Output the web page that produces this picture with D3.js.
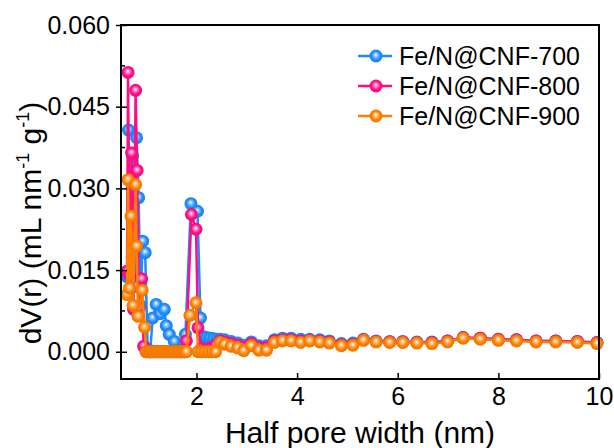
<!doctype html>
<html lang="en">
  <head>
    <meta charset="utf-8">
    <title>Pore size distribution</title>
    <style>
      * { box-sizing: border-box; }
      body { margin: 0; background: #fff; }
      svg text { font-family: Arial, "Liberation Sans", sans-serif; fill: #000; }
    </style>
  </head>
  <body>
    <div id="chart"></div>
    <script src="https://cdn.jsdelivr.net/npm/d3@7"></script>
    <script>
      // half pore width (nm) and dV(r) (mL nm-1 g-1)
      const width700 = [0.62, 0.65, 0.69, 0.73, 0.77, 0.81, 0.85, 0.89, 0.93, 0.98, 1.03, 1.08, 1.13, 1.20, 1.28, 1.36, 1.40, 1.46, 1.56, 1.62, 1.68, 1.74, 1.78, 1.89, 2.02, 2.08, 2.13, 2.20, 2.27, 2.34, 2.41, 2.47, 2.56, 2.69, 2.82, 2.94, 3.09, 3.24, 3.39, 3.55, 3.71, 3.88, 4.07, 4.25, 4.45, 4.64, 4.88, 5.11, 5.32, 5.57, 5.84, 6.10, 6.38, 6.68, 6.99, 7.30, 7.64, 8.00, 8.36, 8.75, 9.14, 9.57, 9.96]
      const dv700 = [0.0138, 0.0407, 0.0150, 0.0360, 0.0120, 0.0393, 0.0283, 0.0085, 0.0203, 0.0182, 0.0005, 0.0000, 0.0062, 0.0087, 0.0070, 0.0078, 0.0048, 0.0032, 0.0019, 0.0002, 0.0000, 0.0004, 0.0032, 0.0272, 0.0258, 0.0062, 0.0028, 0.0026, 0.0025, 0.0024, 0.0023, 0.0023, 0.0022, 0.0019, 0.0016, 0.0012, 0.0018, 0.0011, 0.0011, 0.0022, 0.0025, 0.0025, 0.0023, 0.0023, 0.0022, 0.0020, 0.0015, 0.0016, 0.0023, 0.0020, 0.0019, 0.0019, 0.0018, 0.0018, 0.0020, 0.0026, 0.0025, 0.0023, 0.0022, 0.0020, 0.0020, 0.0019, 0.0017]

      const width800 = [0.62, 0.64, 0.67, 0.71, 0.75, 0.79, 0.82, 0.86, 0.91, 0.95, 1.00, 1.04, 1.08, 1.12, 1.16, 1.20, 1.24, 1.28, 1.32, 1.36, 1.40, 1.44, 1.48, 1.52, 1.56, 1.60, 1.64, 1.68, 1.72, 1.76, 1.80, 1.90, 1.99, 2.03, 2.10, 2.17, 2.24, 2.31, 2.38, 2.47, 2.56, 2.69, 2.82, 2.94, 3.09, 3.24, 3.39, 3.55, 3.71, 3.88, 4.07, 4.25, 4.45, 4.64, 4.88, 5.11, 5.32, 5.57, 5.84, 6.10, 6.38, 6.68, 6.99, 7.30, 7.64, 8.00, 8.36, 8.75, 9.14, 9.57, 9.96]
      const dv800 = [0.0148, 0.0513, 0.0140, 0.0365, 0.0078, 0.0480, 0.0333, 0.0081, 0.0134, 0.0010, 0, 0, 0, 0, 0, 0, 0, 0, 0, 0, 0, 0, 0, 0, 0, 0, 0, 0, 0, 0, 0.0020, 0.0252, 0.0225, 0.0044, 0.0006, 0.0003, 0.0005, 0.0008, 0.0012, 0.0020, 0.0018, 0.0015, 0.0012, 0.0008, 0.0015, 0.0008, 0.0008, 0.0020, 0.0022, 0.0022, 0.0020, 0.0021, 0.0020, 0.0018, 0.0013, 0.0014, 0.0022, 0.0019, 0.0018, 0.0018, 0.0017, 0.0017, 0.0020, 0.0026, 0.0025, 0.0023, 0.0022, 0.0020, 0.0020, 0.0019, 0.0017]

      const width900 = [0.62, 0.64, 0.67, 0.70, 0.74, 0.79, 0.81, 0.84, 0.92, 0.97, 1.00, 1.04, 1.08, 1.12, 1.16, 1.20, 1.24, 1.28, 1.32, 1.36, 1.40, 1.44, 1.48, 1.52, 1.56, 1.60, 1.64, 1.68, 1.72, 1.76, 1.80, 1.87, 1.99, 2.03, 2.10, 2.17, 2.24, 2.31, 2.38, 2.47, 2.56, 2.69, 2.82, 2.94, 3.09, 3.24, 3.39, 3.55, 3.71, 3.88, 4.07, 4.25, 4.45, 4.64, 4.88, 5.11, 5.32, 5.57, 5.84, 6.10, 6.38, 6.68, 6.99, 7.30, 7.64, 8.00, 8.36, 8.75, 9.14, 9.57, 9.96]
      const dv900 = [0.0105, 0.0316, 0.0117, 0.0249, 0.0085, 0.0307, 0.0194, 0.0065, 0.0113, 0.0045, 0, 0, 0, 0, 0, 0, 0, 0, 0, 0, 0, 0, 0, 0, 0, 0, 0, 0, 0, 0, 0, 0.0067, 0.0090, 0, 0, 0, 0, 0, 0, 0.0017, 0.0014, 0.0010, 0.0007, 0.0002, 0.0011, 0.0003, 0.0003, 0.0017, 0.0020, 0.0020, 0.0017, 0.0020, 0.0018, 0.0016, 0.0011, 0.0012, 0.0021, 0.0018, 0.0017, 0.0017, 0.0016, 0.0015, 0.0018, 0.0025, 0.0023, 0.0021, 0.0020, 0.0018, 0.0018, 0.0017, 0.0015]

      const seriesNames = ['Fe/N@CNF-700', 'Fe/N@CNF-800', 'Fe/N@CNF-900']
      const seriesColors = ['#1e8cff', '#ff0f87', '#ff8000']
      const xTicks = [2, 4, 6, 8, 10]
      const yTicks = [0, 0.015, 0.03, 0.045, 0.06]
      const yMinorTicks = [0.0075, 0.0225, 0.0375, 0.0525]

      const series = [
        { name: seriesNames[0], color: seriesColors[0], x: width700, y: dv700 },
        { name: seriesNames[1], color: seriesColors[1], x: width800, y: dv800 },
        { name: seriesNames[2], color: seriesColors[2], x: width900, y: dv900 },
      ]

      const W = 614
      const H = 448
      const margin = { top: 25, right: 15, bottom: 69, left: 121 }
      const plotW = W - margin.left - margin.right
      const plotH = H - margin.top - margin.bottom

      const svg = d3.select('#chart')
        .append('svg')
          .attr('width', W)
          .attr('height', H)

      const defs = svg.append('defs')
      series.forEach((s, i) => {
        const c = d3.color(s.color)
        const g = defs.append('radialGradient')
          .attr('id', `ball${i}`)
          .attr('cx', '50%').attr('cy', '50%').attr('r', '55%')
          .attr('fx', '48%').attr('fy', '40%')
        g.append('stop').attr('offset', '0%').attr('stop-color', '#ffffff')
        g.append('stop').attr('offset', '22%').attr('stop-color', d3.interpolateRgb('#ffffff', s.color)(0.45))
        g.append('stop').attr('offset', '60%').attr('stop-color', s.color)
        g.append('stop').attr('offset', '100%').attr('stop-color', c.darker(0.3))
      })

      const x = d3.scaleLinear().domain([0.5, 10]).range([0, plotW])
      const y = d3.scaleLinear().domain([-0.005, 0.06]).range([plotH, 0])

      const root = svg.append('g')
        .attr('transform', `translate(${margin.left}, ${margin.top})`)

      const plot = root.append('g')
      const line = d3.line().x(d => x(d[0])).y(d => y(d[1]))

      series.forEach((s, i) => {
        const pts = s.x.map((v, j) => [v, s.y[j]])
        plot.append('path')
          .datum(pts)
          .attr('fill', 'none')
          .attr('stroke', s.color)
          .attr('stroke-width', 2.5)
          .attr('stroke-linejoin', 'round')
          .attr('d', line)
        plot.selectAll(`circle.s${i}`)
          .data(pts)
          .enter()
            .append('circle')
              .attr('class', `s${i}`)
              .attr('cx', d => x(d[0]))
              .attr('cy', d => y(d[1]))
              .attr('r', 6.5)
              .attr('fill', `url(#ball${i})`)
      })

      // axes: inward ticks on the bottom, crossing ticks on the left
      const xAxis = d3.axisBottom(x).tickValues(xTicks).tickSizeInner(-6).tickSizeOuter(0).tickPadding(8)
      const gx = root.append('g').attr('transform', `translate(0, ${plotH})`).call(xAxis)
      gx.select('.domain').remove()
      gx.selectAll('text').attr('font-size', 25).attr('font-family', 'Arial, "Liberation Sans", sans-serif')
      gx.selectAll('line').attr('stroke-width', 1.5)

      const yAxis = d3.axisLeft(y).tickValues(yTicks).tickFormat(d3.format('.3f')).tickSizeInner(-6).tickSizeOuter(0).tickPadding(11)
      const gy = root.append('g').call(yAxis)
      gy.select('.domain').remove()
      gy.selectAll('text').attr('font-size', 25).attr('font-family', 'Arial, "Liberation Sans", sans-serif')
      gy.selectAll('.tick line').attr('x1', -5).attr('x2', 6).attr('stroke-width', 1.5)

      root.append('g').selectAll('line')
        .data(yMinorTicks)
        .enter()
          .append('line')
            .attr('x1', 0).attr('x2', 4)
            .attr('y1', d => y(d)).attr('y2', d => y(d))
            .attr('stroke', '#000').attr('stroke-width', 1.5)

      root.append('rect')
        .attr('width', plotW)
        .attr('height', plotH)
        .attr('fill', 'none')
        .attr('stroke', '#000')
        .attr('stroke-width', 2)

      // legend
      const legend = root.append('g').attr('transform', `translate(${358 - margin.left}, ${56 - margin.top})`)
      series.forEach((s, i) => {
        const row = legend.append('g').attr('transform', `translate(0, ${i * 30})`)
        row.append('line').attr('x1', 0).attr('x2', 34).attr('stroke', s.color).attr('stroke-width', 2.5)
        row.append('circle').attr('cx', 18).attr('r', 6.5).attr('fill', `url(#ball${i})`)
        row.append('text')
          .attr('x', 41)
          .attr('dy', '0.35em')
          .attr('font-size', 25)
          .text(s.name)
      })

      // axis titles
      svg.append('text')
        .attr('x', margin.left + plotW / 2)
        .attr('y', 443)
        .attr('text-anchor', 'middle')
        .attr('font-size', 30)
        .text('Half pore width (nm)')

      const yt = svg.append('text')
        .attr('transform', 'translate(41, 223) rotate(-90)')
        .attr('text-anchor', 'middle')
        .attr('font-size', 30)
      yt.append('tspan').text('dV(r) (mL nm')
      yt.append('tspan').attr('font-size', 18).attr('dy', -12).text('-1')
      yt.append('tspan').attr('dy', 12).text(' g')
      yt.append('tspan').attr('font-size', 18).attr('dy', -12).text('-1')
      yt.append('tspan').attr('dy', 12).text(')')
    </script>
  </body>
</html>
